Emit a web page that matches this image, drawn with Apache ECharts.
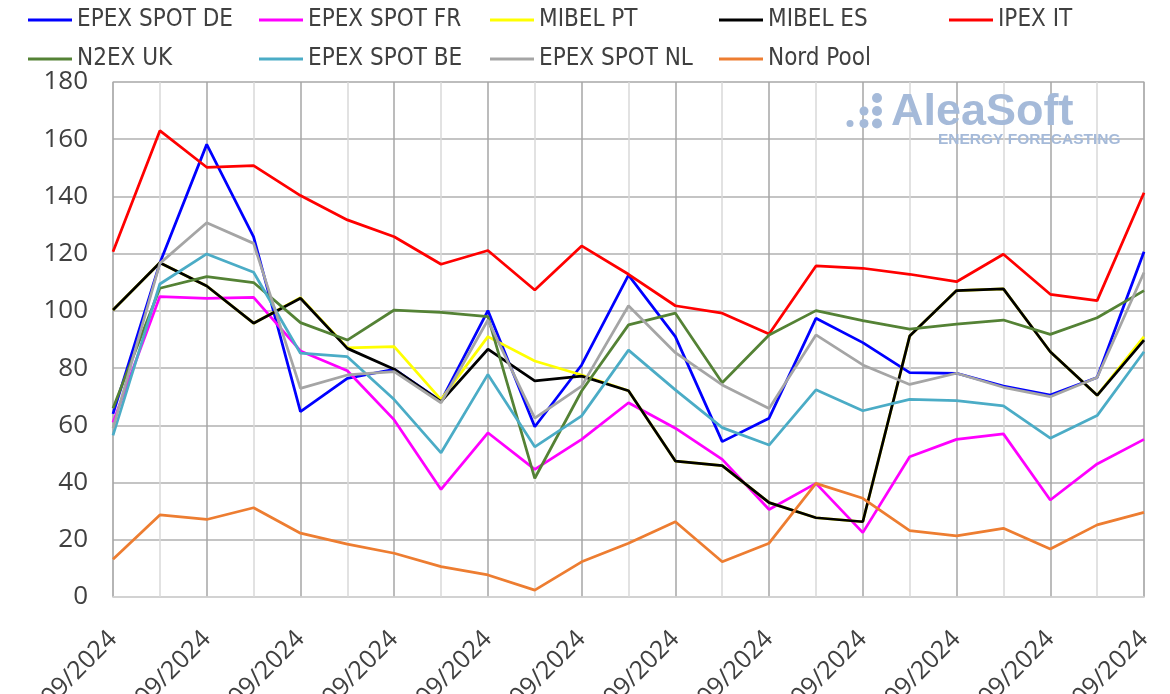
<!DOCTYPE html>
<html>
<head>
<meta charset="utf-8">
<script src="https://cdn.jsdelivr.net/npm/echarts@6/dist/echarts.min.js"></script>
<style>
html,body{margin:0;padding:0;background:#fff;}
#chart{width:1170px;height:694px;}
</style>
</head>
<body>
<div id="chart"></div>
<script>
const dates = ["01/09/2024","02/09/2024","03/09/2024","04/09/2024","05/09/2024","06/09/2024","07/09/2024","08/09/2024","09/09/2024","10/09/2024","11/09/2024","12/09/2024","13/09/2024","14/09/2024","15/09/2024","16/09/2024","17/09/2024","18/09/2024","19/09/2024","20/09/2024","21/09/2024","22/09/2024","23/09/2024"];
const yTicks = [0,20,40,60,80,100,120,140,160,180];

const epexDE = [64, 116.7, 158.2, 125.9, 64.8, 76.4, 79.6, 68.5, 100.1, 59.5, 81.1, 112.5, 91.0, 54.3, 62.5, 97.4, 88.9, 78.4, 78.2, 73.7, 70.6, 76.7, 120.7];
const epexFR = [61, 105.0, 104.4, 104.7, 86.0, 79.1, 61.9, 37.6, 57.4, 44.6, 55.1, 67.9, 59.0, 48.1, 30.6, 39.7, 22.5, 49.0, 55.1, 57.0, 33.9, 46.5, 55.1];
const mibelPT = [100.3, 116.8, 108.7, 95.7, 104.6, 87.1, 87.5, 69.0, 91.0, 82.5, 77.6, 72.1, 47.5, 45.9, 33.0, 27.7, 26.3, 91.2, 107.1, 107.7, 85.7, 70.5, 91.0];
const mibelES = [100.3, 116.8, 108.7, 95.7, 104.4, 86.9, 79.6, 68.3, 86.6, 75.5, 77.2, 72.1, 47.5, 45.9, 33.0, 27.7, 26.3, 91.2, 107.1, 107.7, 85.7, 70.5, 89.8];
const ipexIT = [120.7, 163.0, 150.2, 150.8, 140.3, 131.8, 125.9, 116.3, 121.1, 107.3, 122.7, 112.8, 101.8, 99.2, 91.9, 115.7, 114.9, 112.8, 110.2, 119.8, 105.8, 103.6, 141.3];
const n2exUK = [66, 107.9, 112.0, 109.9, 95.9, 89.8, 100.3, 99.5, 98.0, 41.5, 72.0, 95.1, 99.2, 74.9, 91.6, 100.1, 96.6, 93.6, 95.4, 96.8, 91.8, 97.6, 107.1];
const epexBE = [56.5, 109.4, 119.9, 113.5, 85.2, 84.0, 69.0, 50.4, 77.8, 52.5, 63.3, 86.3, 72.4, 59.2, 53.1, 72.4, 65.1, 69.1, 68.6, 66.8, 55.5, 63.4, 85.7];
const epexNL = [59, 116.6, 130.8, 123.6, 72.9, 77.6, 78.8, 67.9, 96.8, 62.5, 73.7, 101.8, 85.4, 74.1, 65.9, 91.6, 81.1, 74.3, 78.2, 73.3, 70.0, 76.7, 113.4];
const nordPool = [13.2, 28.7, 27.1, 31.2, 22.3, 18.5, 15.3, 10.6, 7.7, 2.4, 12.3, 18.8, 26.3, 12.3, 18.8, 39.7, 34.5, 23.2, 21.4, 24.0, 16.8, 25.2, 29.6];

const seriesNames = ["EPEX SPOT DE","EPEX SPOT FR","MIBEL PT","MIBEL ES","IPEX IT","N2EX UK","EPEX SPOT BE","EPEX SPOT NL","Nord Pool"];
const seriesData = [epexDE, epexFR, mibelPT, mibelES, ipexIT, n2exUK, epexBE, epexNL, nordPool];
const seriesColors = ["#0000FF","#FF00FF","#FFFF00","#000000","#FF0000","#548235","#4BACC6","#A5A5A5","#ED7D31"];

const legendCols = [28, 259, 490, 719, 949];
const legendRows = [7, 46];
const legendFont = "'DejaVu Sans Condensed', 'Liberation Sans Narrow', sans-serif";
const axisFont = "'Open Sans', 'Noto Sans', sans-serif";

const chart = echarts.init(document.getElementById('chart'), null, {renderer: 'canvas'});

const legends = seriesNames.map((n, i) => ({
  data: [n],
  left: legendCols[i % 5],
  top: legendRows[Math.floor(i / 5)],
  itemWidth: 44,
  itemHeight: 3,
  icon: 'rect',
  selectedMode: false,
  padding: 0,
  textStyle: {fontFamily: legendFont, fontSize: 24, color: '#404040', lineHeight: 26}
}));

const option = {
  animation: false,
  backgroundColor: '#ffffff',
  legend: legends,
  grid: {left: 113, right: 26, top: 82, bottom: 97, containLabel: false, outerBoundsMode: 'none', show: true, borderColor: '#d9d9d9', borderWidth: 1.5},
  xAxis: {
    type: 'category',
    data: dates,
    boundaryGap: false,
    axisLine: {show: true, lineStyle: {color: '#d9d9d9', width: 1.5}},
    axisTick: {show: false},
    axisLabel: {interval: 1, rotate: 45, margin: 38, fontFamily: axisFont, fontSize: 25, color: '#404040'},
    splitLine: {show: true, interval: 0, lineStyle: {color: ['#a6a6a6', '#d9d9d9'], width: 1.5}}
  },
  yAxis: {
    type: 'value',
    min: yTicks[0],
    max: yTicks[yTicks.length - 1],
    interval: yTicks[1] - yTicks[0],
    axisLine: {show: false},
    axisTick: {show: false},
    axisLabel: {margin: 25, fontFamily: axisFont, fontSize: 26, color: '#404040'},
    splitLine: {show: true, lineStyle: {color: '#b0b0b0', width: 1.5}}
  },
  graphic: [
    {type: 'circle', z: 1, shape: {cx: 877, cy: 98, r: 5}, style: {fill: '#a5bad9'}},
    {type: 'circle', z: 1, shape: {cx: 864, cy: 111, r: 4.5}, style: {fill: '#a5bad9'}},
    {type: 'circle', z: 1, shape: {cx: 877, cy: 111, r: 5}, style: {fill: '#a5bad9'}},
    {type: 'circle', z: 1, shape: {cx: 850, cy: 123.5, r: 3.5}, style: {fill: '#a5bad9'}},
    {type: 'circle', z: 1, shape: {cx: 864, cy: 123.5, r: 4.5}, style: {fill: '#a5bad9'}},
    {type: 'circle', z: 1, shape: {cx: 877, cy: 123.5, r: 5}, style: {fill: '#a5bad9'}},
    {type: 'text', z: 1, x: 891, y: 113, style: {text: 'AleaSoft', fill: '#a5bad9', font: 'bold 45px "Liberation Sans", Arial, sans-serif', verticalAlign: 'middle', align: 'left'}},
    {type: 'text', z: 1, x: 938, y: 139.5, style: {text: 'ENERGY FORECASTING', fill: '#a5bad9', font: 'bold 15.5px "Liberation Sans", Arial, sans-serif', verticalAlign: 'middle', align: 'left'}}
  ],
  series: seriesNames.map((n, i) => ({
    name: n,
    type: 'line',
    data: seriesData[i],
    symbol: 'none',
    showSymbol: false,
    color: seriesColors[i],
    lineStyle: {width: 2.75, color: seriesColors[i]},
    z: 2 + i
  }))
};
chart.setOption(option);
</script>
</body>
</html>
